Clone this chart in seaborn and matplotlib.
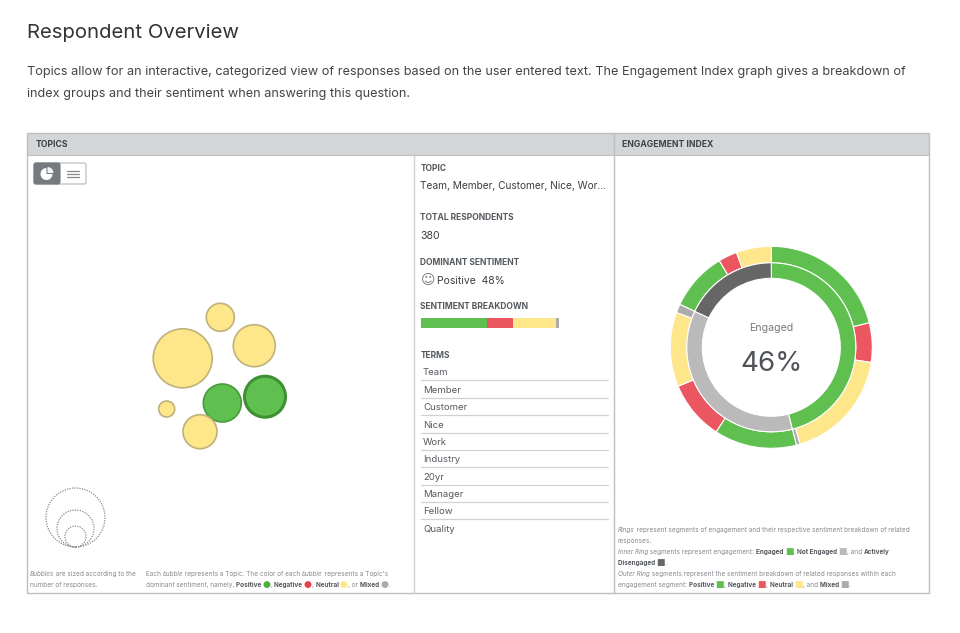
import matplotlib
matplotlib.use("Agg")
import matplotlib.pyplot as plt
from matplotlib.patches import FancyBboxPatch, Rectangle, Wedge
import pandas as pd
import seaborn as sns

# cores
VERDE = "#5FC04F"
VERM = "#EB5660"
AMAR = "#FEE68A"
CINZA = "#ABABAD"
CLARO = "#BABABA"
ESCURO = "#666666"

# bolhas, em pixels da imagem
bolha_x = [182.7, 220.3, 254.3, 222.3, 265.0, 166.7, 200.0]
bolha_y = [358.3, 317.3, 345.7, 403.0, 396.7, 409.0, 431.7]
bolha_r = [29.5, 14.0, 21.0, 19.0, 20.5, 8.0, 17.0]
bolha_sent = ["Neutral", "Neutral", "Neutral", "Positive", "Positive", "Neutral", "Neutral"]
bolha_borda = ["#BFB279", "#BFB279", "#BFB279", "#4A9A3D", "#3F8F35", "#BFB279", "#BFB279"]
bolha_lw = [1.2, 1.2, 1.2, 1.2, 2.2, 1.2, 1.2]

# legenda de tamanho
ref_x = [75.5, 75.5, 75.5]
ref_y = [517.5, 528.5, 536.5]
ref_r = [29.5, 18.5, 10.5]

# anel interno e externo, em %
interno_val = [46, 36, 18]
interno_cor = [VERDE, CLARO, ESCURO]
externo_val = [21.1, 6.3, 18.0, 0.6, 13.2, 9.5, 11.9, 1.4, 9.4, 3.0, 5.6]
externo_cor = [VERDE, VERM, AMAR, CINZA, VERDE, VERM, AMAR, CINZA, VERDE, VERM, AMAR]

# barra de sentimento, em %
sent_nome = ["Positive", "Negative", "Neutral", "Mixed"]
sent_val = [47.7, 18.8, 31.1, 2.4]
sent_cor = [VERDE, VERM, AMAR, CINZA]

termos = ["Team", "Member", "Customer", "Nice", "Work", "Industry", "20yr", "Manager", "Fellow", "Quality"]
termos_y = [375, 393, 410, 428, 445, 462, 480, 497, 514, 532]
linhas_y = [380, 398, 415, 432.5, 450, 467, 485, 502, 519]

# textos com trechos: n normal, b negrito, i italico, ou cor do simbolo
nota_esq = [
    (576, [("Bubbles", "i"), (" are sized according to the", "n")]),
    (587, [("number of responses.", "n")]),
]
nota_meio = [
    (576, [("Each ", "n"), ("bubble", "i"), (" represents a Topic. The color of each ", "n"), ("bubble", "i"),
           (" represents a Topic's", "n")]),
    (587, [("dominant sentiment, namely, ", "n"), ("Positive ", "b"), ("●", "#4CAF3F"), (", ", "n"),
           ("Negative ", "b"), ("●", "#E8404A"), (", ", "n"), ("Neutral ", "b"), ("●", AMAR), (", or ", "n"),
           ("Mixed ", "b"), ("●", CINZA), (".", "n")]),
]
nota_dir = [
    (532, [("Rings", "i"), (" represent segments of engagement and their respective sentiment breakdown of related", "n")]),
    (543, [("responses.", "n")]),
    (554, [("Inner Ring", "i"), (" segments represent engagement: ", "n"), ("Engaged ", "b"), ("■", VERDE), (", ", "n"),
           ("Not Engaged ", "b"), ("■", CLARO), (", and ", "n"), ("Actively", "b")]),
    (565, [("Disengaged ", "b"), ("■", ESCURO), (".", "n")]),
    (576, [("Outer Ring", "i"), (" segments represent the sentiment breakdown of related responses within each", "n")]),
    (587, [("engagement segment: ", "n"), ("Positive ", "b"), ("■", VERDE), (", ", "n"), ("Negative ", "b"), ("■", VERM),
           (", ", "n"), ("Neutral ", "b"), ("■", AMAR), (", and ", "n"), ("Mixed ", "b"), ("■", CINZA), (".", "n")]),
]

sns.set_theme(style="white")
plt.rcParams["font.family"] = ["Inter", "DejaVu Sans"]

fig = plt.figure(figsize=(9.6, 6.33), dpi=100)
ax = fig.add_axes([0, 0, 1, 1])
ax.set_xlim(0, 960)
ax.set_ylim(633, 0)
ax.axis("off")
render = fig.canvas.get_renderer()


def largura(txt, **kw):
    # o ponto garante que espacos no fim sejam medidos
    a = ax.text(0, 0, txt + ".", **kw)
    b = ax.text(0, 0, ".", **kw)
    w = a.get_window_extent(render).width - b.get_window_extent(render).width
    a.remove()
    b.remove()
    return w


def escreve(x, linhas, tam=4.62):
    for y, partes in linhas:
        px = x
        for txt, tipo in partes:
            kw = dict(fontsize=tam, color="#85898E", fontweight="normal", fontstyle="normal")
            if tipo == "b":
                kw.update(color="#55595E", fontweight="bold")
            elif tipo == "i":
                kw.update(fontstyle="italic")
            elif tipo != "n":
                kw.update(color=tipo, fontsize=tam + 2, family="DejaVu Sans")
            ax.text(px, y, txt, va="baseline", ha="left", **kw)
            px += largura(txt, **kw)


# titulo
ax.text(27, 38, "Respondent Overview", fontsize=14.6, color="#333333", va="baseline", fontweight="normal")
ax.text(27, 75, "Topics allow for an interactive, categorized view of responses based on the user entered text. "
        "The Engagement Index graph gives a breakdown of", fontsize=9.17, color="#444444", va="baseline")
ax.text(27, 97, "index groups and their sentiment when answering this question.", fontsize=9.17, color="#444444", va="baseline")

# moldura
ax.add_patch(Rectangle((27, 133), 902, 22, fc="#D3D5D7", ec="none"))
ax.add_patch(Rectangle((27, 133), 902, 460, fc="none", ec="#BDBEC0", lw=1))
ax.plot([27, 929], [155, 155], color="#BDBEC0", lw=0.8)
ax.plot([414, 414], [155, 593], color="#D0D1D3", lw=1)
ax.plot([613.5, 613.5], [133, 593], color="#BDBEC0", lw=1)
ax.text(36, 147, "TOPICS", fontsize=6.2, fontweight="bold", color="#3D4247", va="baseline")
ax.text(622, 147, "ENGAGEMENT INDEX", fontsize=6.2, fontweight="bold", color="#3D4247", va="baseline")

# botoes
ax.add_patch(FancyBboxPatch((34, 163), 52, 21, boxstyle="round,pad=0,rounding_size=2", fc="white", ec="#B5B7B9", lw=0.8))
ax.add_patch(FancyBboxPatch((34, 163), 26, 21, boxstyle="round,pad=0,rounding_size=2", fc="#767A7E", ec="#767A7E", lw=0.8))
ax.add_patch(Wedge((46.5, 174), 6, 0, 270, fc="white", ec="none"))
ax.add_patch(Wedge((47.5, 173), 6, -90, 0, fc="white", ec="none", alpha=0.9))
for yl in [170.5, 173.5, 176.5]:
    ax.plot([67, 79], [yl, yl], color="#85898E", lw=0.9)

# bolhas
df_bolhas = pd.DataFrame({"x": bolha_x, "y": bolha_y, "r": bolha_r, "sent": bolha_sent})
tamanhos = {r: (2 * r * 0.72) ** 2 for r in bolha_r}
sns.scatterplot(data=df_bolhas, x="x", y="y", hue="sent", size="r", sizes=tamanhos,
                palette={"Neutral": AMAR, "Positive": VERDE}, legend=False, ax=ax,
                edgecolor=bolha_borda, linewidth=bolha_lw, zorder=3)

# legenda de tamanho
df_ref = pd.DataFrame({"x": ref_x, "y": ref_y, "r": ref_r})
ax.scatter(df_ref["x"], df_ref["y"], s=[(2 * r * 0.72) ** 2 for r in ref_r], facecolors="none",
           edgecolors="#8A8A8A", linewidths=0.9, linestyle=(0, (1, 1)))

escreve(30, nota_esq)
escreve(146, nota_meio)

# coluna do meio
rotulos = [("TOPIC", 171), ("TOTAL RESPONDENTS", 220), ("DOMINANT SENTIMENT", 265), ("SENTIMENT BREAKDOWN", 309), ("TERMS", 358)]
for txt, y in rotulos:
    ax.text(420.5, y, txt, fontsize=6.1, fontweight="bold", color="#555A5F", va="baseline")
ax.text(420.5, 189, "Team, Member, Customer, Nice, Wor…", fontsize=7.3, color="#3A3F44", va="baseline")
ax.text(420.5, 239, "380", fontsize=7.6, color="#3A3F44", va="baseline")
ax.text(420.5, 284, "☺", fontsize=10, color="#777777", va="baseline", family="DejaVu Sans")
ax.text(437, 284, "Positive  48%", fontsize=7.5, color="#3A3F44", va="baseline")

for t, y in zip(termos, termos_y):
    ax.text(423, y, t, fontsize=6.9, color="#55595E", va="baseline")
for y in linhas_y:
    ax.plot([421, 608], [y, y], color="#D0D1D3", lw=0.9)

# barra empilhada: desenha do acumulado maior para o menor
ax_barra = fig.add_axes([420.7 / 960, 1 - 328.3 / 633, 138.3 / 960, 10 / 633])
acum = pd.Series(sent_val).cumsum()
for nome, v, c in reversed(list(zip(sent_nome, acum, sent_cor))):
    sns.barplot(x=[v], y=["Sentiment"], color=c, width=1, saturation=1, linewidth=0, ax=ax_barra)
ax_barra.set_xlim(0, 100)
ax_barra.axis("off")

# aneis
R = 101
cx, cy = 771.3, 347.3
lado = 2.5 * R
ax_pie = fig.add_axes([(cx - lado / 2) / 960, 1 - (cy + lado / 2) / 633, lado / 960, lado / 633])
ax_pie.pie(externo_val, colors=externo_cor, startangle=90, counterclock=False, radius=1,
           wedgeprops=dict(width=16.5 / R, edgecolor="white", linewidth=0.8))
ax_pie.pie(interno_val, colors=interno_cor, startangle=90, counterclock=False, radius=84.5 / R,
           wedgeprops=dict(width=15.5 / R, edgecolor="white", linewidth=0.8))
ax_pie.set_xlim(-1.25, 1.25)
ax_pie.set_ylim(-1.25, 1.25)
ax.text(cx, 331, "Engaged", fontsize=7.6, color="#7A7A7A", ha="center", va="baseline")
ax.text(cx, 371, "46%", fontsize=20, color="#4F5358", ha="center", va="baseline")

escreve(618, nota_dir)

plt.savefig("out.png", dpi=100)
